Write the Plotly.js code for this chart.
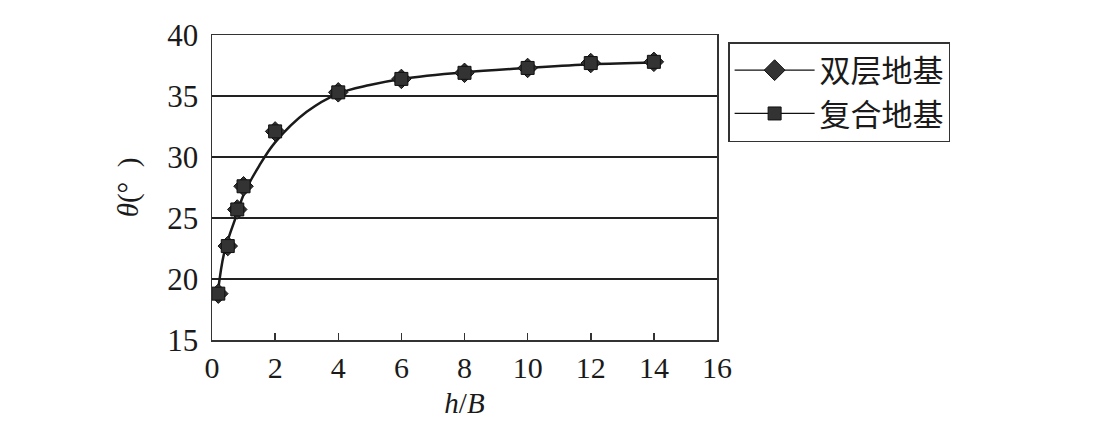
<!DOCTYPE html>
<html>
<head>
<meta charset="utf-8">
<script src="https://cdn.plot.ly/plotly-3.0.1.min.js"></script>
<style>html,body{margin:0;padding:0;background:#fff;}#chart{width:1101px;height:434px;}</style>
</head>
<body>
<div id="chart"></div>
<script>
// data
const hB = [0.2, 0.5, 0.8, 1, 2, 4, 6, 8, 10, 12, 14];
const theta双层 = [18.8, 22.7, 25.7, 27.6, 32.1, 35.3, 36.4, 36.9, 37.3, 37.7, 37.8];
const theta复合 = [18.8, 22.7, 25.7, 27.6, 32.1, 35.3, 36.4, 36.9, 37.3, 37.7, 37.8];
const fitX = [0.2, 0.4, 0.8, 1, 1.5, 2, 3, 4, 5, 6, 8, 10, 12, 14];
const fitY = [19.2, 22.3, 25.4, 26.9, 29.3, 31.2, 33.7, 35.2, 35.9, 36.4, 36.95, 37.3, 37.6, 37.75];
const seriesNames = ['双层地基', '复合地基'];
const xTicks = [0, 2, 4, 6, 8, 10, 12, 14, 16];
const yTicks = [15, 20, 25, 30, 35, 40];

const FONT = '"Liberation Serif", "DejaVu Serif", "Noto Sans CJK SC", serif';
const markFill = '#333333';

const traces = [
  {x: fitX, y: fitY, mode: 'lines', line: {color: '#1a1a1a', width: 2.5, shape: 'spline', smoothing: 1}, showlegend: false, hoverinfo: 'skip'},
  {x: hB, y: theta双层, mode: 'markers', marker: {symbol: 'diamond', size: 15, color: markFill, line: {color: '#111', width: 1}}, showlegend: false},
  {x: hB, y: theta复合, mode: 'markers', marker: {symbol: 'square', size: 13, color: markFill, line: {color: '#111', width: 1}}, showlegend: false},
  {x: [null], y: [null], name: seriesNames[0], mode: 'lines+markers', line: {color: '#111', width: 1.2}, marker: {symbol: 'diamond', size: 16, color: markFill, line: {color: '#111', width: 1}}},
  {x: [null], y: [null], name: seriesNames[1], mode: 'lines+markers', line: {color: '#111', width: 1.2}, marker: {symbol: 'square', size: 13, color: markFill, line: {color: '#111', width: 1}}}
];

const layout = {
  width: 1101, height: 434,
  margin: {l: 212, r: 384, t: 35, b: 94},
  paper_bgcolor: '#fff', plot_bgcolor: '#fff',
  font: {family: FONT, size: 28, color: '#1a1a1a'},
  showlegend: true,
  legend: {
    x: 1.022, y: 0.977, xanchor: 'left', yanchor: 'top',
    bordercolor: '#333', borderwidth: 1.5, bgcolor: '#fff',
    font: {family: FONT, size: 31, color: '#1a1a1a'},
    itemwidth: 80, tracegroupgap: 0
  },
  xaxis: {
    range: [0, 16], tickvals: xTicks, ticktext: xTicks.map(String),
    ticks: 'inside', ticklen: 7, tickwidth: 1.5, tickcolor: '#333',
    showline: true, linecolor: '#333', linewidth: 1.5, mirror: true,
    showgrid: false, zeroline: false,
    tickfont: {family: FONT, size: 30},
    title: {text: '<i>h</i>/<i>B</i>', font: {family: FONT, size: 29}, standoff: 10}
  },
  yaxis: {
    range: [15, 40], tickvals: yTicks, ticktext: yTicks.map(String),
    ticks: '', ticklabelstandoff: 6, showline: true, linecolor: '#333', linewidth: 1.5, mirror: true,
    showgrid: true, gridcolor: '#222', gridwidth: 1.2, zeroline: false,
    tickfont: {family: FONT, size: 31},
    title: {text: '<i>θ</i>(°\u2002)', font: {family: FONT, size: 29}, standoff: 20}
  }
};

Plotly.newPlot('chart', traces, layout, {staticPlot: true, displayModeBar: false});
</script>
</body>
</html>
